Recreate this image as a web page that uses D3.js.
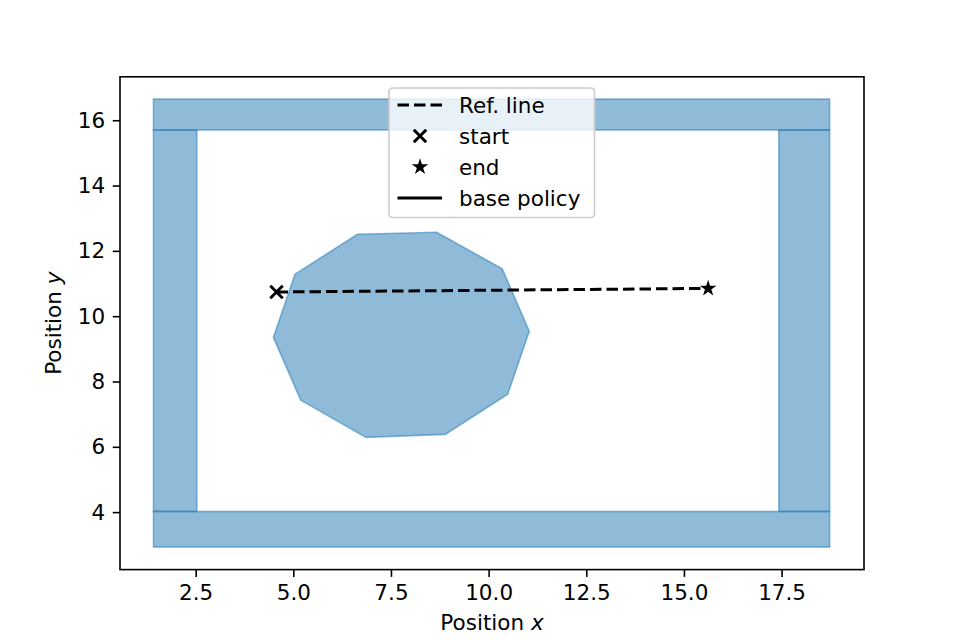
<!DOCTYPE html>
<html>
<head>
<meta charset="utf-8">
<script src="https://cdn.jsdelivr.net/npm/d3@7"></script>
<style>
  body { margin: 0; background: #fff; }
  svg { font-family: "DejaVu Sans", sans-serif; }
</style>
</head>
<body>
<svg width="960" height="640"></svg>
<script>
// walls: [x0, x1, y0, y1] in data units
const wallNames = ["top", "bottom", "left", "right"];
const wallX0 = [1.42, 1.42, 1.42, 17.43];
const wallX1 = [18.73, 18.73, 2.53, 18.73];
const wallY0 = [15.70, 2.93, 4.02, 4.02];
const wallY1 = [16.65, 4.02, 15.70, 15.70];

// obstacle polygon vertices
const obstacleX = [6.64, 8.67, 10.35, 11.04, 10.49, 8.89, 6.86, 5.19, 4.49, 5.04];
const obstacleY = [12.51, 12.57, 11.45, 9.54, 7.61, 6.38, 6.29, 7.43, 9.35, 11.28];

const startPt = [4.57, 10.74];
const endPt = [15.62, 10.85];

const xTicks = [2.5, 5.0, 7.5, 10.0, 12.5, 15.0, 17.5];
const yTicks = [4, 6, 8, 10, 12, 14, 16];
const legendLabels = ["Ref. line", "start", "end", "base policy"];

const W = 960, H = 640;
const margin = { left: 120, right: 96, top: 76.8, bottom: 70.4 };
const FS = 21.5;
const blue = "#1f77b4";
const DASH = "11.5,5";

const svg = d3.select("svg");

const x = d3.scaleLinear().domain([0.563, 19.61]).range([margin.left, W - margin.right]);
const y = d3.scaleLinear().domain([2.24, 17.33]).range([H - margin.bottom, margin.top]);

// walls
svg.append("g")
  .selectAll("rect")
  .data(wallNames.map((n, i) => ({ x0: wallX0[i], x1: wallX1[i], y0: wallY0[i], y1: wallY1[i] })))
  .enter()
  .append("rect")
  .attr("x", d => x(d.x0))
  .attr("y", d => y(d.y1))
  .attr("width", d => x(d.x1) - x(d.x0))
  .attr("height", d => y(d.y0) - y(d.y1))
  .attr("fill", blue)
  .attr("fill-opacity", 0.5)
  .attr("stroke", blue)
  .attr("stroke-opacity", 0.5)
  .attr("stroke-width", 1.6);

// obstacle
const poly = obstacleX.map((v, i) => [x(v), y(obstacleY[i])]);
svg.append("path")
  .attr("d", d3.line()(poly) + "Z")
  .attr("fill", blue)
  .attr("fill-opacity", 0.5)
  .attr("stroke", blue)
  .attr("stroke-opacity", 0.5)
  .attr("stroke-width", 1.6);

// ref line
svg.append("line")
  .attr("x1", x(startPt[0])).attr("y1", y(startPt[1]))
  .attr("x2", x(endPt[0])).attr("y2", y(endPt[1]))
  .attr("stroke", "#000")
  .attr("stroke-width", 3)
  .attr("stroke-dasharray", DASH);

const xMark = (cx, cy, s) => `M${cx - s},${cy - s}L${cx + s},${cy + s}M${cx - s},${cy + s}L${cx + s},${cy - s}`;
const starSym = d3.symbol().type(d3.symbolStar).size(85);

svg.append("path")
  .attr("d", xMark(x(startPt[0]), y(startPt[1]), 6.2))
  .attr("stroke", "#000").attr("stroke-width", 3).attr("fill", "none");
svg.append("path")
  .attr("d", starSym())
  .attr("transform", `translate(${x(endPt[0])},${y(endPt[1])})`)
  .attr("fill", "#000");

// axes
const xAxis = svg.append("g")
  .attr("transform", `translate(0,${H - margin.bottom})`)
  .call(d3.axisBottom(x).tickValues(xTicks).tickFormat(d3.format(".1f")).tickSize(7.3).tickPadding(7.5));
const yAxis = svg.append("g")
  .attr("transform", `translate(${margin.left},0)`)
  .call(d3.axisLeft(y).tickValues(yTicks).tickFormat(d3.format("d")).tickSize(7.3).tickPadding(7.5));
[xAxis, yAxis].forEach(a => {
  a.select(".domain").remove();
  a.selectAll("line").attr("stroke", "#000").attr("stroke-width", 1.6);
  a.selectAll("text").attr("font-size", FS).attr("fill", "#000").attr("font-family", "DejaVu Sans");
});

// frame
svg.append("rect")
  .attr("x", margin.left).attr("y", margin.top)
  .attr("width", W - margin.left - margin.right)
  .attr("height", H - margin.top - margin.bottom)
  .attr("fill", "none").attr("stroke", "#000").attr("stroke-width", 1.6);

// labels
const xl = svg.append("text")
  .attr("x", (margin.left + W - margin.right) / 2).attr("y", 629.5)
  .attr("text-anchor", "middle").attr("font-size", FS);
xl.append("tspan").text("Position ");
xl.append("tspan").attr("font-style", "italic").text("x");

const yl = svg.append("text")
  .attr("transform", `translate(61,${(margin.top + H - margin.bottom) / 2}) rotate(-90)`)
  .attr("text-anchor", "middle").attr("font-size", FS);
yl.append("tspan").text("Position ");
yl.append("tspan").attr("font-style", "italic").text("y");

// legend
const lg = svg.append("g").attr("transform", "translate(389,88)");
lg.append("rect")
  .attr("width", 205.5).attr("height", 129.5)
  .attr("rx", 3.5)
  .attr("fill", "#fff").attr("fill-opacity", 0.8)
  .attr("stroke", "#cccccc").attr("stroke-width", 1.6);

const rowY = d3.scalePoint().domain(legendLabels).range([17, 110]);
legendLabels.forEach((lab, i) => {
  const yy = rowY(lab);
  if (i === 0 || i === 3) {
    lg.append("line")
      .attr("x1", 8.5).attr("x2", 53).attr("y1", yy).attr("y2", yy)
      .attr("stroke", "#000").attr("stroke-width", 3)
      .attr("stroke-dasharray", i === 0 ? DASH : null);
  } else if (i === 1) {
    lg.append("path").attr("d", xMark(31, yy, 6.2))
      .attr("stroke", "#000").attr("stroke-width", 3).attr("fill", "none");
  } else {
    lg.append("path").attr("d", starSym())
      .attr("transform", `translate(31,${yy})`).attr("fill", "#000");
  }
  lg.append("text")
    .attr("x", 70).attr("y", yy).attr("dy", "0.36em")
    .attr("font-size", FS).text(lab);
});
</script>
</body>
</html>
